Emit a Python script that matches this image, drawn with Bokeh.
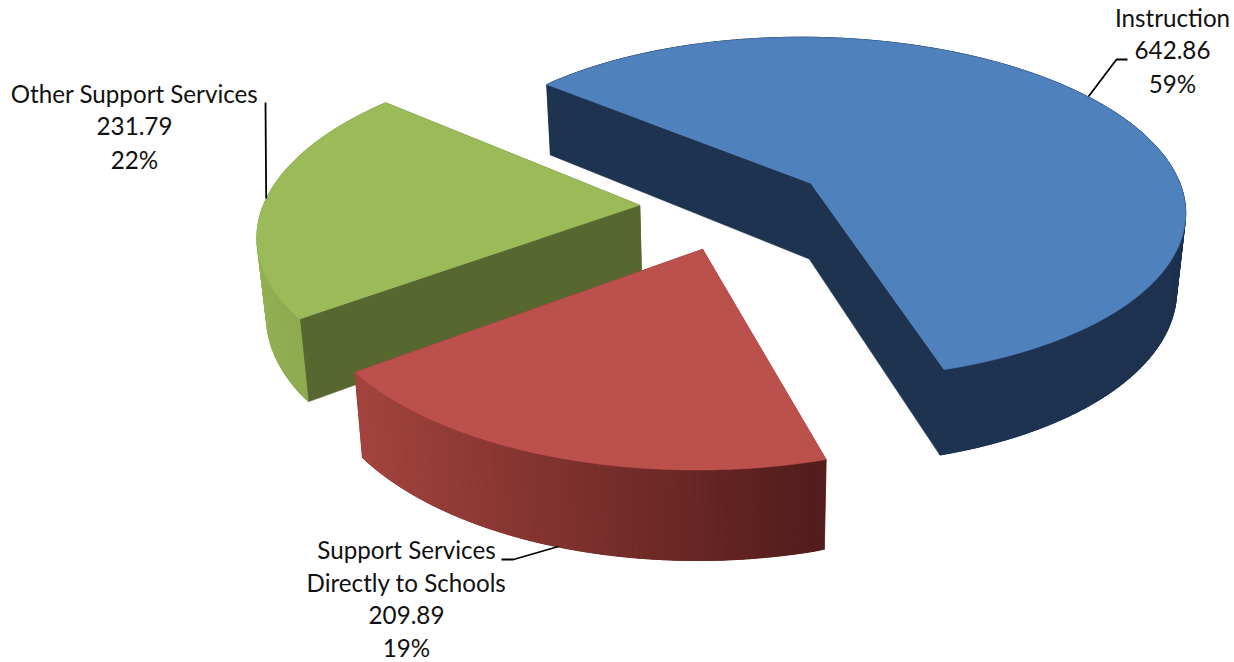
import numpy as np
from bokeh.core.properties import value
from bokeh.embed import file_html
from bokeh.plotting import figure
from bokeh.resources import INLINE

# Spending by category
categories = ["Instruction", "Support Services Directly to Schools", "Other Support Services"]
amounts = [642.86, 209.89, 231.79]
percent_labels = ["59%", "19%", "22%"]
label_lines = [["Instruction"], ["Support Services", "Directly to Schools"], ["Other Support Services"]]

top_colors = ["#4F81BD", "#BC504D", "#9BBB59"]
cut_colors = ["#1E3350", "#7A2E2C", "#56682F"]
rim_left_colors = ["#1E3350", "#A5443F", "#93B053"]
rim_right_colors = ["#1E3350", "#531D1B", "#86A14B"]

# Layout of the projected pie, in page pixels
WIDTH, HEIGHT = 1234, 662
CX, CY = 733.0, 206.0
RX, RY = 376.5, 174.0
PERSPECTIVE = 0.148
EXPLODE = 0.25
THICKNESS = 77.0
BASE_SHRINK = 0.98
FIRST_ANGLE = -49.75


def project(u, v):
    s = 1.0 / (1.0 - PERSPECTIVE * v)
    return CX + RX * u * s, CY + RY * v * s, s


def base_of(x, y, s):
    return CX + (x - CX) * BASE_SHRINK, y + THICKNESS * s ** 0.8


def hex_mix(a, b, t):
    ca = np.array([int(a[i:i + 2], 16) for i in (1, 3, 5)], dtype=float)
    cb = np.array([int(b[i:i + 2], 16) for i in (1, 3, 5)], dtype=float)
    c = ca + (cb - ca) * t
    return "#%02x%02x%02x" % tuple(int(round(q)) for q in c)


p = figure(width=WIDTH, height=HEIGHT, x_range=(0, WIDTH), y_range=(HEIGHT, 0),
           output_backend="svg", toolbar_location=None, min_border=0)
p.axis.visible = False
p.grid.visible = False
p.outline_line_color = None
p.background_fill_color = "white"
p.border_fill_color = "white"

total = sum(amounts)
sweeps = [a / total * 360.0 for a in amounts]
starts = FIRST_ANGLE + np.concatenate([[0.0], np.cumsum(sweeps)[:-1]])

# Blue sits apart from the others; red is painted last since it overlaps green's side.
for i in (0, 2, 1):
    a0 = np.radians(starts[i])
    a1 = np.radians(starts[i] + sweeps[i])
    mid = (a0 + a1) / 2
    ox, oy = EXPLODE * np.sin(mid), -EXPLODE * np.cos(mid)
    theta = np.linspace(a0, a1, int(sweeps[i] * 1.5) + 2)
    tx, ty, ts = project(ox + np.sin(theta), oy - np.cos(theta))
    bx, by = base_of(tx, ty, ts)
    ax, ay, az = project(ox, oy)
    abx, aby = base_of(ax, ay, az)

    # The two flat cut walls; walls facing away end up under the top face
    p.patches([[ax, tx[0], bx[0], abx], [ax, tx[-1], bx[-1], abx]],
              [[ay, ty[0], by[0], aby], [ay, ty[-1], by[-1], aby]],
              fill_color=cut_colors[i], line_color=cut_colors[i], line_width=0.6)
    p.line([ax, abx], [ay, aby], line_color=cut_colors[i], line_width=1.5)

    # Outer wall, shaded from left to right across the pie; strips overlap to hide seams
    xs, ys, fills = [], [], []
    n = len(theta)
    for j in range(n - 1):
        seg = np.arange(j, min(j + 3, n - 1) + 1)
        xs.append(np.concatenate([tx[seg], bx[seg][::-1]]))
        ys.append(np.concatenate([ty[seg], by[seg][::-1]]))
        t = np.clip((tx[j] - tx.min()) / (tx.max() - tx.min()), 0, 1)
        fills.append(hex_mix(rim_left_colors[i], rim_right_colors[i], t))
    p.patches(xs[::-1], ys[::-1], fill_color=fills[::-1], line_color=fills[::-1], line_width=0.5)

    # Top face
    p.patch(np.concatenate([[ax], tx]), np.concatenate([[ay], ty]),
            fill_color=top_colors[i], line_color=top_colors[i], line_width=0.6)

# Leader lines
leaders = [
    ([1127, 1116, 1088], [59, 59, 96]),
    ([501, 513, 558], [559, 559, 546]),
    ([265, 265.7], [102, 198]),
]
for lx, ly in leaders:
    p.line(lx, ly, line_color="black", line_width=1.8)

# Labels: name lines, then amount, then share
label_anchor = [(1172, 17), (406, 549), (134, 93)]
LINE_STEP = 32.8
for i in range(3):
    lines = label_lines[i] + [f"{amounts[i]:.2f}", percent_labels[i]]
    x0, y0 = label_anchor[i]
    p.text([x0] * len(lines), [y0 + LINE_STEP * k for k in range(len(lines))], text=lines,
           text_font=value("Lato"), text_font_size="24.2px", text_color="#111111",
           text_align="center", text_baseline="middle")

open("out.html", "w").write(file_html(p, INLINE))
